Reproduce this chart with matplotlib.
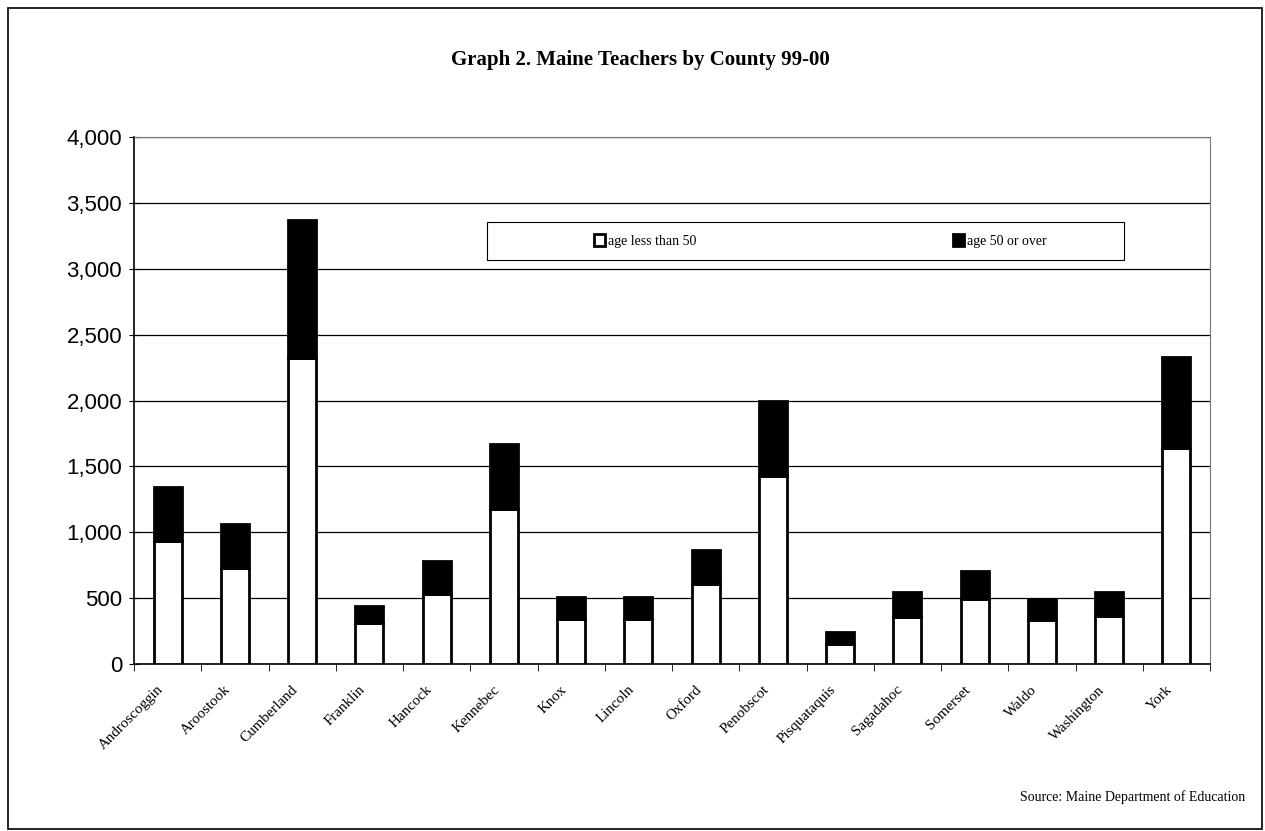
import matplotlib.pyplot as plt
from matplotlib.patches import Rectangle
from matplotlib.ticker import FuncFormatter, FixedLocator
from matplotlib.transforms import ScaledTranslation
import numpy as np

counties = ['Androscoggin', 'Aroostook', 'Cumberland', 'Franklin', 'Hancock',
            'Kennebec', 'Knox', 'Lincoln', 'Oxford', 'Penobscot', 'Pisquataquis',
            'Sagadahoc', 'Somerset', 'Waldo', 'Washington', 'York']
under_50 = [935, 725, 2325, 310, 530, 1180, 345, 345, 610, 1425, 155, 355, 495, 335, 365, 1640]
total = [1340, 1065, 3370, 440, 780, 1670, 505, 510, 865, 2000, 240, 545, 705, 495, 545, 2330]
over_50 = [t - u for t, u in zip(total, under_50)]

fig = plt.figure(figsize=(12.65, 8.31), dpi=100)
ax = fig.add_axes([134 / 1265, 1 - 664 / 831, (1210 - 134) / 1265, (664 - 137) / 831])

x = np.arange(len(counties))
ax.bar(x, under_50, width=0.42, color='white', edgecolor='black', linewidth=2,
       label='age less than 50', zorder=3)
ax.bar(x, over_50, bottom=under_50, width=0.42, color='black', edgecolor='black',
       linewidth=2, label='age 50 or over', zorder=3)

ax.set_xlim(-0.5, len(counties) - 0.5)
ax.set_ylim(0, 4000)
ax.set_yticks(np.arange(0, 4001, 500))
ax.yaxis.set_major_formatter(FuncFormatter(lambda v, p: f'{int(v):,}'))
ax.yaxis.grid(True, color='black', linewidth=0.9, zorder=0)
ax.tick_params(axis='y', length=7, direction='inout', labelsize=16, pad=5)
for lab in ax.get_yticklabels():
    lab.set_family('Liberation Sans')

# category labels centred, ticks between categories
ax.set_xticks(x)
ax.set_xticklabels(counties, rotation=45, ha='right', rotation_mode='anchor',
                   family='Liberation Serif', fontsize=10.8)
ax.tick_params(axis='x', length=0, pad=8)
shift = ScaledTranslation(-0.11, -0.08, fig.dpi_scale_trans)
for lab in ax.get_xticklabels():
    lab.set_transform(lab.get_transform() + shift)
ax.xaxis.set_minor_locator(FixedLocator(np.arange(-0.5, len(counties), 1)))
ax.tick_params(axis='x', which='minor', length=5, direction='out')

for s in ['top', 'right']:
    ax.spines[s].set_color('#777777')
    ax.spines[s].set_linewidth(0.8)
ax.spines['left'].set_linewidth(1.2)
ax.spines['bottom'].set_linewidth(1.2)

leg = ax.legend(ncol=2, loc='center', bbox_to_anchor=(0.638, 0.803),
                prop={'family': 'Liberation Serif', 'size': 10},
                handlelength=0.8, handleheight=0.9, handletextpad=0.2,
                columnspacing=18.5, frameon=False)
ax.add_patch(Rectangle((0.328, 0.7666), 0.592, 0.0721, transform=ax.transAxes,
                       facecolor='white', edgecolor='black', linewidth=0.8,
                       zorder=4))
leg.set_zorder(5)

fig.text(640 / 1265, 1 - 60 / 831, 'Graph 2. Maine Teachers by County 99-00',
         ha='center', va='center', family='Liberation Serif', fontsize=15,
         fontweight='bold')
fig.text(1245 / 1265, 1 - 797 / 831, 'Source: Maine Department of Education',
         ha='right', va='center', family='Liberation Serif', fontsize=10)

fig.patches.append(Rectangle((8 / 1265, 0.002), 1254 / 1265, 1 - 8 / 831 - 0.002,
                             transform=fig.transFigure, fill=False,
                             edgecolor='black', linewidth=1.2))

fig.savefig('out.png', dpi=100)
